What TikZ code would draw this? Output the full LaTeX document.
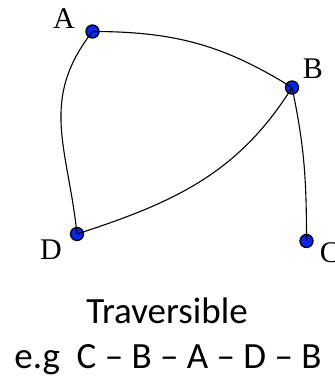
\documentclass[tikz,border=0pt]{standalone}
\usepackage{fontspec}
\setmainfont{Liberation Serif}
\newfontfamily\calib{Carlito}
\usetikzlibrary{calc}

\begin{document}
\begin{tikzpicture}[x=1pt,y=-1pt,
		vert/.style={circle,draw=black,line width=1.3pt,fill={rgb,255:red,0;green,40;blue,250},minimum size=13pt,inner sep=0pt},
		lab/.style={font=\fontsize{30}{30}\selectfont,inner sep=0pt},
		captext/.style={font=\calib\fontsize{37}{37}\selectfont,inner sep=0pt},
		edge/.style={line width=1.1pt}]
		
		% Frame
		\useasboundingbox (0,0) rectangle (335,378);
		
		% Vertices
		\node[vert] (A) at (92.5,31.5) {};
		\node[vert] (B) at (292,87.5) {};
		\node[vert] (C) at (306.5,241) {};
		\node[vert] (D) at (77,234) {};
		
		% Vertex labels
		\node[lab] (lA) at (64,19) {A};
		\node[lab] (lB) at (313,69) {B};
		\node[lab] (lC) at (330,253) {C};
		\node[lab] (lD) at (51,250) {D};
		
		% Edges
		\draw[edge] (A.center) to[out=0,in=148] (B.center);
		\draw[edge] (A.center) to[out=-128,in=96,looseness=1.1] (D.center);
		\draw[edge] (B.center) to[out=-122,in=18] (D.center);
		\draw[edge] (B.center) to[out=-78,in=90] (C.center);
		
		% Caption
		\node[captext,anchor=base] (trav) at (167,323) {Traversible};
		\node[captext,anchor=base] (eg) at (168,368) {e.g\ \ C – B – A – D – B};
		
	\end{tikzpicture}
\end{document}
